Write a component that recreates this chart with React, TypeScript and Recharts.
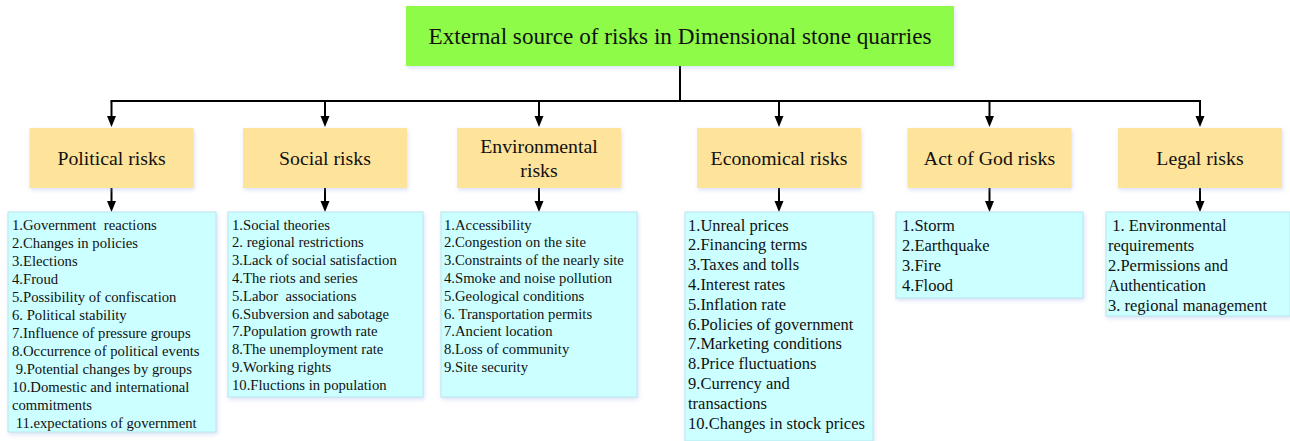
import React from 'react';
import { ScatterChart, Scatter, XAxis, YAxis, ReferenceLine } from 'recharts';

// ---------- DATA ----------
const rootTitle = 'External source of risks in Dimensional stone quarries';

const categories = [
  'Political risks',
  'Social risks',
  'Environmental\nrisks',
  'Economical risks',
  'Act of God risks',
  'Legal risks',
];

const politicalItems = [
  '1.Government  reactions',
  '2.Changes in policies',
  '3.Elections',
  '4.Froud',
  '5.Possibility of confiscation',
  '6. Political stability',
  '7.Influence of pressure groups',
  '8.Occurrence of political events',
  ' 9.Potential changes by groups',
  '10.Domestic and international\ncommitments',
  ' 11.expectations of government',
];

const socialItems = [
  '1.Social theories',
  '2. regional restrictions',
  '3.Lack of social satisfaction',
  '4.The riots and series',
  '5.Labor  associations',
  '6.Subversion and sabotage',
  '7.Population growth rate',
  '8.The unemployment rate',
  '9.Working rights',
  '10.Fluctions in population',
];

const environmentalItems = [
  '1.Accessibility',
  '2.Congestion on the site',
  '3.Constraints of the nearly site',
  '4.Smoke and noise pollution',
  '5.Geological conditions',
  '6. Transportation permits',
  '7.Ancient location',
  '8.Loss of community',
  '9.Site security',
];

const economicalItems = [
  '1.Unreal prices',
  '2.Financing terms',
  '3.Taxes and tolls',
  '4.Interest rates',
  '5.Inflation rate',
  '6.Policies of government',
  '7.Marketing conditions',
  '8.Price fluctuations',
  '9.Currency and\ntransactions',
  '10.Changes in stock prices',
];

const actOfGodItems = ['1.Storm', '2.Earthquake', '3.Fire', '4.Flood'];

const legalItems = [
  ' 1. Environmental\nrequirements',
  '2.Permissions and\nAuthentication',
  '3. regional management',
];

const itemLists = [
  politicalItems,
  socialItems,
  environmentalItems,
  economicalItems,
  actOfGodItems,
  legalItems,
];

// ---------- LAYOUT (pixel space, separate from data) ----------
const W = 1290;
const H = 441;
const FONT = '"Liberation Serif", "Times New Roman", serif';

const rootBox = { x: 406, y: 6, w: 548, h: 60 };
const busY = 101;
const catCenters = [111.5, 325, 539, 779, 989.5, 1200];
const catBox = { y: 128, w: 164, h: 60 };
const detailTop = 212;
const detailBoxes = [
  { x: 8, w: 208, h: 220, fs: 14.7, lh: 18, pad: 4, base: 17.5 },
  { x: 228, w: 195, h: 185, fs: 14.7, lh: 17.8, pad: 4, base: 17.5 },
  { x: 441, w: 196, h: 185, fs: 14.7, lh: 17.8, pad: 3, base: 17.5 },
  { x: 685, w: 188, h: 229, fs: 16.5, lh: 19.8, pad: 3, base: 18.5 },
  { x: 896, w: 187, h: 86, fs: 16.5, lh: 20, pad: 6, base: 18.5 },
  { x: 1106, w: 184, h: 104, fs: 16.5, lh: 20, pad: 2, base: 18.5 },
];

const rootData = [{ x: rootBox.x, y: rootBox.y, label: rootTitle }];
const catData = categories.map((c, i) => ({ x: catCenters[i], y: catBox.y, label: c }));
const detailData = itemLists.map((items, i) => ({
  x: detailBoxes[i].x,
  y: detailTop,
  lines: items.flatMap((s) => s.split('\n')),
  idx: i,
}));

const shadow = 'drop-shadow(1px 2px 2px rgba(150,170,230,0.35))';

const RootShape = (props: any) => {
  const { cx, cy, payload } = props;
  const mx = cx + rootBox.w / 2;
  return (
    <g>
      <line x1={mx} y1={cy + rootBox.h} x2={mx} y2={cy + (busY - rootBox.y)} stroke="#000" strokeWidth={2} />
      <rect x={cx} y={cy} width={rootBox.w} height={rootBox.h} fill="#8DFB47" style={{ filter: shadow }} />
      <text x={mx} y={cy + rootBox.h / 2 + 7.5} textAnchor="middle" fontFamily={FONT} fontSize={23.2} fill="#111">
        {payload.label}
      </text>
    </g>
  );
};

const Arrow = ({ x, y1, y2 }: { x: number; y1: number; y2: number }) => (
  <g>
    <line x1={x} y1={y1} x2={x} y2={y2 - 9} stroke="#000" strokeWidth={2} />
    <path d={`M${x - 4.5},${y2 - 11} L${x + 4.5},${y2 - 11} L${x},${y2} Z`} fill="#000" />
  </g>
);

const CatShape = (props: any) => {
  const { cx, cy, payload } = props;
  const lines: string[] = payload.label.split('\n');
  const mid = cy + catBox.h / 2;
  const lh = 24;
  const start = mid - ((lines.length - 1) * lh) / 2 + 6.5;
  return (
    <g>
      <Arrow x={cx} y1={busY} y2={cy - 1} />
      <Arrow x={cx} y1={cy + catBox.h} y2={detailTop} />
      <rect x={cx - catBox.w / 2} y={cy} width={catBox.w} height={catBox.h} fill="#FEE39B" style={{ filter: shadow }} />
      <text textAnchor="middle" fontFamily={FONT} fontSize={19.8} fill="#111">
        {lines.map((l, k) => (
          <tspan key={k} x={cx} y={start + k * lh}>
            {l}
          </tspan>
        ))}
      </text>
    </g>
  );
};

const DetailShape = (props: any) => {
  const { cx, cy, payload } = props;
  const b = detailBoxes[payload.idx];
  return (
    <g>
      <rect x={cx} y={cy} width={b.w} height={b.h} fill="#CCFFFF" stroke="#B9E6EE" strokeWidth={1} style={{ filter: shadow }} />
      <text fontFamily={FONT} fontSize={b.fs} fill="#111" style={{ whiteSpace: 'pre' }}>
        {payload.lines.map((l: string, k: number) => (
          <tspan key={k} x={cx + b.pad} y={cy + b.base + k * b.lh}>
            {l}
          </tspan>
        ))}
      </text>
    </g>
  );
};

export default function App() {
  return (
    <div style={{ position: 'absolute', left: 0, top: 0, width: W, height: H, background: '#fff' }}>
      <ScatterChart width={W} height={H} margin={{ top: 0, right: 0, bottom: 0, left: 0 }}>
        <XAxis type="number" dataKey="x" domain={[0, W]} hide allowDataOverflow />
        <YAxis type="number" dataKey="y" domain={[0, H]} reversed hide allowDataOverflow />
        <ReferenceLine
          segment={[
            { x: catCenters[0] - 1, y: busY },
            { x: catCenters[catCenters.length - 1] + 1, y: busY },
          ]}
          stroke="#000"
          strokeWidth={2}
        />
        <Scatter data={rootData} shape={RootShape} isAnimationActive={false} />
        <Scatter data={catData} shape={CatShape} isAnimationActive={false} />
        <Scatter data={detailData} shape={DetailShape} isAnimationActive={false} />
      </ScatterChart>
    </div>
  );
}
